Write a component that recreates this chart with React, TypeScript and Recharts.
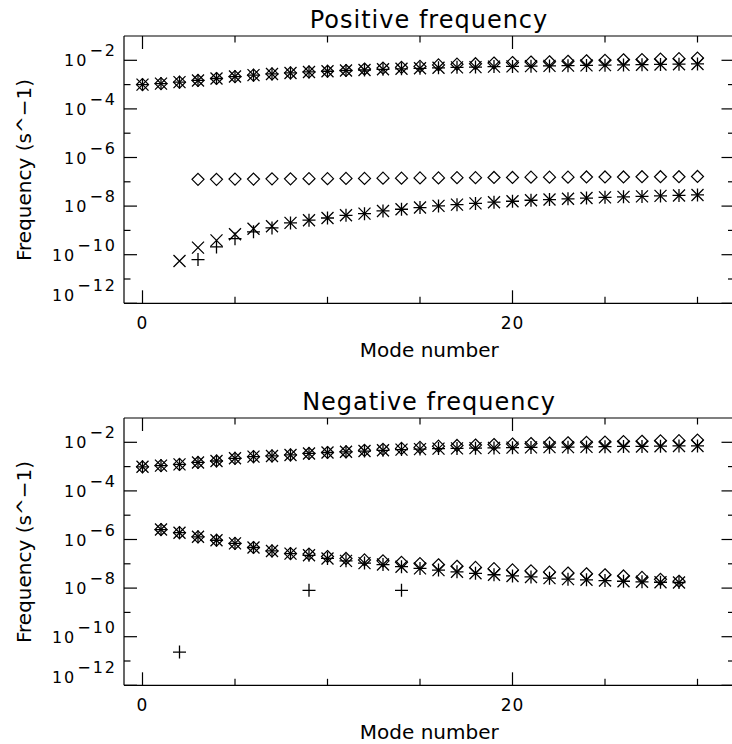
import React from "react";
import { ScatterChart, Scatter, XAxis, YAxis } from "recharts";

// mode numbers 0..30
const modes = [
  0, 1, 2, 3, 4, 5, 6, 7, 8, 9, 10, 11, 12, 13, 14, 15, 16, 17, 18, 19, 20,
  21, 22, 23, 24, 25, 26, 27, 28, 29, 30,
];

// ---- Positive frequency ----
const posUpper = [
  1.0e-3, 1.1e-3, 1.26e-3, 1.48e-3, 1.78e-3, 2.14e-3, 2.45e-3, 2.75e-3,
  3.02e-3, 3.31e-3, 3.55e-3, 3.8e-3, 3.98e-3, 4.27e-3, 4.47e-3, 4.68e-3,
  4.9e-3, 5.13e-3, 5.25e-3, 5.5e-3, 5.62e-3, 5.75e-3, 5.89e-3, 6.03e-3,
  6.17e-3, 6.31e-3, 6.46e-3, 6.61e-3, 6.76e-3, 6.92e-3, 7.08e-3,
];
const posUpperDiamond = [
  1.0e-3, 1.1e-3, 1.26e-3, 1.48e-3, 1.78e-3, 2.14e-3, 2.45e-3, 2.75e-3,
  3.02e-3, 3.31e-3, 3.55e-3, 3.8e-3, 4.37e-3, 4.79e-3, 5.13e-3, 5.62e-3,
  6.46e-3, 6.92e-3, 7.24e-3, 7.76e-3, 8.13e-3, 8.51e-3, 8.71e-3, 9.12e-3,
  9.55e-3, 1.0e-2, 1.05e-2, 1.07e-2, 1.12e-2, 1.17e-2, 1.23e-2,
];
const posLowerCross = [
  null, null, 5.5e-11, 1.95e-10, 3.89e-10, 6.92e-10, 1.17e-9, 1.48e-9,
  2.04e-9, 2.63e-9, 3.24e-9, 4.17e-9, 4.9e-9, 6.31e-9, 7.41e-9, 8.71e-9,
  1.02e-8, 1.15e-8, 1.29e-8, 1.45e-8, 1.58e-8, 1.74e-8, 1.86e-8, 2.0e-8,
  2.14e-8, 2.29e-8, 2.4e-8, 2.51e-8, 2.63e-8, 2.75e-8, 2.88e-8,
];
const posLowerPlus = [
  null, null, null, 6.3e-11, 2.09e-10, 4.57e-10, 8.71e-10, 1.26e-9,
  2.04e-9, 2.63e-9, 3.24e-9, 4.17e-9, 4.9e-9, 6.31e-9, 7.41e-9, 8.71e-9,
  1.02e-8, 1.15e-8, 1.29e-8, 1.45e-8, 1.58e-8, 1.74e-8, 1.86e-8, 2.0e-8,
  2.14e-8, 2.29e-8, 2.4e-8, 2.51e-8, 2.63e-8, 2.75e-8, 2.88e-8,
];
const posLowerDiamond = [
  null, null, null, 1.26e-7, 1.26e-7, 1.29e-7, 1.29e-7, 1.32e-7,
  1.32e-7, 1.35e-7, 1.35e-7, 1.38e-7, 1.38e-7, 1.41e-7, 1.41e-7, 1.45e-7,
  1.45e-7, 1.48e-7, 1.48e-7, 1.51e-7, 1.51e-7, 1.55e-7, 1.55e-7, 1.55e-7,
  1.58e-7, 1.58e-7, 1.58e-7, 1.62e-7, 1.62e-7, 1.62e-7, 1.66e-7,
];

// ---- Negative frequency ----
const negUpper = [
  9.8e-4, 1.1e-3, 1.23e-3, 1.48e-3, 1.7e-3, 2.19e-3, 2.57e-3, 2.75e-3,
  3.02e-3, 3.47e-3, 3.8e-3, 4.07e-3, 4.37e-3, 4.68e-3, 5.01e-3, 5.25e-3,
  5.5e-3, 5.62e-3, 5.75e-3, 5.89e-3, 6.03e-3, 6.17e-3, 6.31e-3, 6.31e-3,
  6.46e-3, 6.61e-3, 6.76e-3, 6.76e-3, 6.92e-3, 7.08e-3, 7.08e-3,
];
const negUpperDiamond = [
  9.8e-4, 1.1e-3, 1.23e-3, 1.48e-3, 1.7e-3, 2.19e-3, 2.57e-3, 2.75e-3,
  3.02e-3, 3.47e-3, 3.8e-3, 4.07e-3, 4.68e-3, 5.13e-3, 5.62e-3, 6.17e-3,
  6.92e-3, 7.41e-3, 7.76e-3, 8.13e-3, 8.51e-3, 8.91e-3, 9.33e-3, 9.55e-3,
  1.0e-2, 1.02e-2, 1.07e-2, 1.1e-2, 1.15e-2, 1.17e-2, 1.23e-2,
];
const negLower = [
  null, 2.57e-6, 1.91e-6, 1.29e-6, 9.33e-7, 6.92e-7, 4.68e-7, 3.39e-7,
  2.63e-7, 2.24e-7, 1.66e-7, 1.32e-7, 1.07e-7, 9.33e-8, 7.59e-8, 6.46e-8,
  5.5e-8, 4.68e-8, 4.07e-8, 3.55e-8, 3.16e-8, 2.88e-8, 2.57e-8, 2.34e-8,
  2.19e-8, 2.04e-8, 1.91e-8, 1.82e-8, 1.74e-8, 1.7e-8, null,
];
const negLowerDiamond = [
  null, 2.57e-6, 1.91e-6, 1.29e-6, 9.33e-7, 6.92e-7, 4.68e-7, 3.39e-7,
  2.63e-7, 2.51e-7, 2.0e-7, 1.66e-7, 1.45e-7, 1.32e-7, 1.15e-7, 1.02e-7,
  9.12e-8, 7.94e-8, 7.08e-8, 6.31e-8, 5.62e-8, 5.13e-8, 4.57e-8, 4.17e-8,
  3.89e-8, 3.55e-8, 3.16e-8, 2.75e-8, 2.29e-8, 1.91e-8, null,
];
// stray plus points of the negative branch
const negPlusModes = [2, 9, 14];
const negPlusValues = [2.34e-11, 8.13e-9, 8.13e-9];

const xTicks = [0, 5, 10, 15, 20, 25, 30];
const xLabelled = [0, 20];
const yTicks = [1e-12, 1e-11, 1e-10, 1e-9, 1e-8, 1e-7, 1e-6, 1e-5, 1e-4, 1e-3, 1e-2];

const FONT = "DejaVu Sans";
const toPoints = (vals: (number | null)[]) =>
  vals
    .map((v, i) => (v == null ? null : { mode: modes[i], freq: v }))
    .filter((p) => p !== null) as { mode: number; freq: number }[];

const PlusMark = (p: any) => (
  <path
    d={`M${p.cx - 6.5},${p.cy}H${p.cx + 6.5}M${p.cx},${p.cy - 6.5}V${p.cy + 6.5}`}
    stroke="#000"
    strokeWidth={1.3}
    fill="none"
  />
);
const CrossMark = (p: any) => (
  <path
    d={`M${p.cx - 6},${p.cy - 6}L${p.cx + 6},${p.cy + 6}M${p.cx - 6},${p.cy + 6}L${p.cx + 6},${p.cy - 6}`}
    stroke="#000"
    strokeWidth={1.3}
    fill="none"
  />
);
const DiamondMark = (p: any) => (
  <path
    d={`M${p.cx},${p.cy - 6}L${p.cx + 6},${p.cy}L${p.cx},${p.cy + 6}L${p.cx - 6},${p.cy}Z`}
    stroke="#000"
    strokeWidth={1.2}
    fill="none"
  />
);

const expOf = (v: number) => Math.round(Math.log10(v));

const LeftTick = (p: any) => {
  const e = expOf(p.payload.value);
  const major = e % 2 === 0;
  // the lowest label sits a little above its tick, as in the original plot
  const lift = p.index === 0 ? 8 : 0;
  return (
    <g>
      <line x1={p.x} x2={p.x + (major ? 13 : 6.5)} y1={p.y} y2={p.y} stroke="#000" strokeWidth={1.2} />
      {major && (
        <text
          x={p.x - 7} y={p.y + 6 - lift} textAnchor="end" fontSize={16} letterSpacing={2}
          fontFamily={FONT} fill="#000"
        >
          <tspan>10</tspan>
          <tspan dx={1} dy={-10}>{"\u2212" + -e}</tspan>
        </text>
      )}
    </g>
  );
};
const RightTick = (p: any) => {
  const major = expOf(p.payload.value) % 2 === 0;
  return <line x1={p.x} x2={p.x - (major ? 13 : 6.5)} y1={p.y} y2={p.y} stroke="#000" strokeWidth={1.2} />;
};
const BottomTick = (p: any) => {
  const major = xLabelled.includes(p.payload.value);
  return (
    <g>
      <line x1={p.x} x2={p.x} y1={p.y} y2={p.y - (major ? 13 : 6.5)} stroke="#000" strokeWidth={1.2} />
      {major && (
        <text x={p.x} y={p.y + 26} textAnchor="middle" fontSize={17} letterSpacing={1} fontFamily={FONT} fill="#000">
          {p.payload.value}
        </text>
      )}
    </g>
  );
};
const TopTick = (p: any) => {
  const major = xLabelled.includes(p.payload.value);
  return <line x1={p.x} x2={p.x} y1={p.y} y2={p.y + (major ? 13 : 6.5)} stroke="#000" strokeWidth={1.2} />;
};

interface PanelProps {
  title: string;
  top: number;
  plus: { mode: number; freq: number }[];
  cross: { mode: number; freq: number }[];
  diamond: { mode: number; freq: number }[];
}

const Panel: React.FC<PanelProps> = ({ title, top, plus, cross, diamond }) => (
  <div style={{ position: "absolute", left: 0, top, width: 740, height: 372 }}>
    <div
      style={{
        position: "absolute", left: 124, top: 6, width: 610, textAlign: "center",
        fontFamily: FONT, fontSize: 24, lineHeight: "28px", letterSpacing: 1, color: "#000",
      }}
    >
      {title}
    </div>
    <div
      style={{
        position: "absolute", left: 23 - 133.5, top: 169.5 - 12, width: 267, textAlign: "center",
        fontFamily: FONT, fontSize: 20, lineHeight: "24px", transform: "rotate(-90deg)", color: "#000",
      }}
    >
      Frequency (s^{"\u2212"}1)
    </div>
    <ScatterChart width={740} height={372} margin={{ top: 35, right: 4.5, bottom: 0, left: 0 }}>
      <XAxis
        dataKey="mode" type="number" domain={[-1, 32]} ticks={xTicks} interval={0}
        height={68.7} tickSize={0} tickMargin={0} tickLine={false} tick={<BottomTick />}
        axisLine={{ stroke: "#000", strokeWidth: 1.2 }} allowDataOverflow
        label={{ value: "Mode number", position: "insideBottom", offset: 15, fontSize: 20, fontFamily: FONT, fill: "#000" }}
      />
      <XAxis
        xAxisId="t" orientation="top" dataKey="mode" type="number" domain={[-1, 32]} ticks={xTicks}
        interval={0} height={1} tickSize={0} tickMargin={0} tickLine={false} tick={<TopTick />}
        axisLine={{ stroke: "#000", strokeWidth: 1.2 }} allowDataOverflow
      />
      <YAxis
        dataKey="freq" type="number" scale="log" domain={[1e-12, 1e-1]} ticks={yTicks} interval={0}
        width={124} tickSize={0} tickMargin={0} tickLine={false} tick={<LeftTick />}
        axisLine={{ stroke: "#000", strokeWidth: 1.2 }} allowDataOverflow
      />
      <YAxis
        yAxisId="r" orientation="right" dataKey="freq" type="number" scale="log" domain={[1e-12, 1e-1]}
        ticks={yTicks} interval={0} width={1} tickSize={0} tickMargin={0} tickLine={false}
        tick={<RightTick />} axisLine={{ stroke: "#000", strokeWidth: 1.2 }} allowDataOverflow
      />
      <Scatter data={diamond} isAnimationActive={false} shape={DiamondMark} />
      <Scatter data={cross} isAnimationActive={false} shape={CrossMark} />
      <Scatter data={plus} isAnimationActive={false} shape={PlusMark} />
    </ScatterChart>
  </div>
);

export default function App() {
  const posPlus = [...toPoints(posUpper), ...toPoints(posLowerPlus)];
  const posCross = [...toPoints(posUpper), ...toPoints(posLowerCross)];
  const posDiamond = [...toPoints(posUpperDiamond), ...toPoints(posLowerDiamond)];
  const negPlus = [
    ...toPoints(negUpper),
    ...toPoints(negLower),
    ...negPlusModes.map((m, i) => ({ mode: m, freq: negPlusValues[i] })),
  ];
  const negCross = [...toPoints(negUpper), ...toPoints(negLower)];
  const negDiamond = [...toPoints(negUpperDiamond), ...toPoints(negLowerDiamond)];
  return (
    <div
      style={{
        position: "absolute", left: 0, top: 0, width: 732, height: 744,
        overflow: "hidden", background: "#fff",
      }}
    >
      <Panel title="Positive frequency" top={0} plus={posPlus} cross={posCross} diamond={posDiamond} />
      <Panel title="Negative frequency" top={382} plus={negPlus} cross={negCross} diamond={negDiamond} />
    </div>
  );
}
